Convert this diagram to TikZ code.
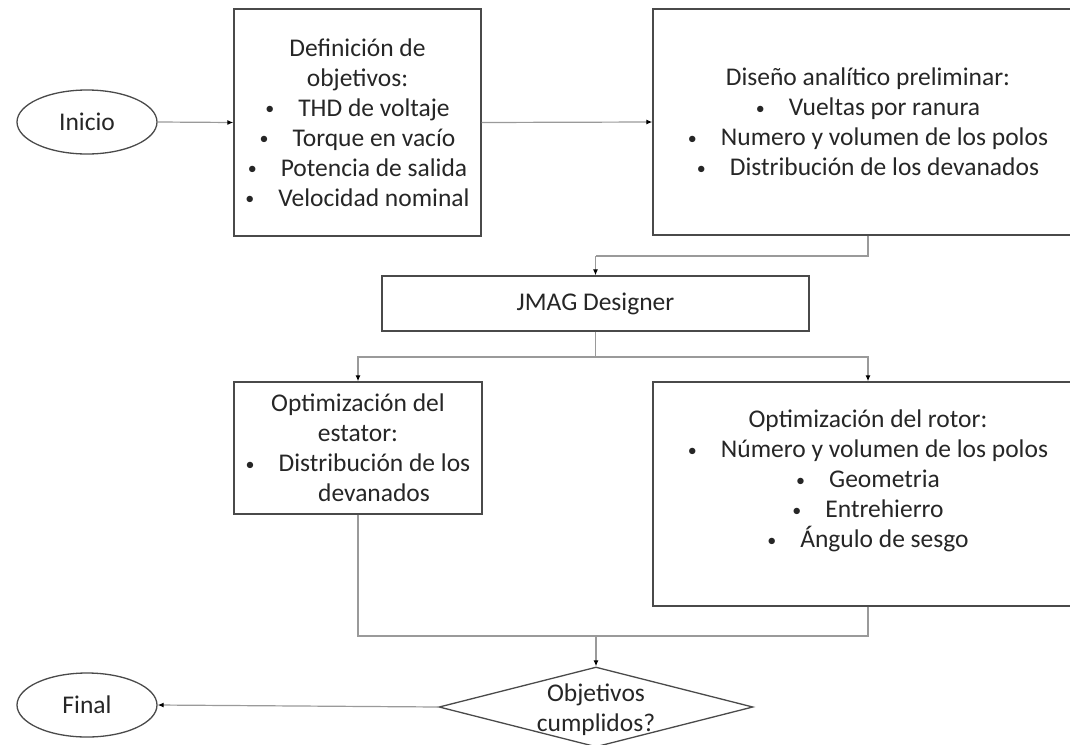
\documentclass[tikz,border=0pt]{standalone}
\usepackage{fontspec}
\setmainfont{Carlito}
\usetikzlibrary{shapes.geometric,arrows.meta}
\definecolor{bord}{HTML}{4A4A4A}
\definecolor{lin}{HTML}{9A9A9A}
\definecolor{txt}{HTML}{262626}
\newcommand{\bul}{{\fontsize{18}{18}\selectfont\raisebox{1.5pt}{\textbullet}}\hspace{24pt}}
\begin{document}
\begin{tikzpicture}[x=1pt,y=-1pt,
  box/.style={draw=bord,line width=1.3pt,fill=white,inner sep=0pt,align=center,text=txt,font=\fontsize{25.5}{30}\selectfont},
  oval/.style={draw=bord,line width=1.3pt,ellipse,inner sep=0pt,minimum width=140pt,minimum height=64pt,text=txt,font=\fontsize{25.5}{30}\selectfont},
  dec/.style={draw=bord,line width=1.3pt,diamond,inner sep=0pt,minimum width=314pt,minimum height=80pt},
  lbl/.style={align=center,text=txt,inner sep=0pt,font=\fontsize{25.5}{30}\selectfont},
  conn/.style={draw=lin,line width=1.2pt},
  arr/.style={conn,-{Latex[length=6pt,width=5pt,color=black]}}]
\clip (0,0) rectangle (1070,744);
\fill[white] (0,0) rectangle (1070,744);

\node[oval] (ini) at (87,122) {Inicio};
\node[box,minimum width=247pt,minimum height=227pt] (b1) at (357.5,122.5)
  {Definición de\\objetivos:\\\bul THD de voltaje\\\bul Torque en vacío\\\bul Potencia de salida\\\bul Velocidad nominal};
\node[box,minimum width=430pt,minimum height=226pt] (b2) at (868,122)
  {Diseño analítico preliminar:\\\bul Vueltas por ranura\\\bul Numero y volumen de los polos\\\bul Distribución de los devanados};
\node[box,minimum width=427pt,minimum height=55pt] (jm) at (595.5,303.5) {JMAG Designer};
\node[box,minimum width=248pt,minimum height=132pt] (b3) at (358,448)
  {Optimización del\\estator:\\\bul Distribución de los\\\hspace*{32pt}devanados};
\node[box,minimum width=430pt,minimum height=224pt] (b4) at (868,494) {};
\node[lbl] (b4t) at (868,481)
  {Optimización del rotor:\\\bul Número y volumen de los polos\\\bul Geometria\\\bul Entrehierro\\\bul Ángulo de sesgo};
\node[dec] (dia) at (596,707) {};
\node[lbl] (diat) at (596,710) {Objetivos\\cumplidos?};
\node[oval] (fin) at (87,705) {Final};

\coordinate (bend1) at (595.5,256);
\coordinate (split) at (595.5,357);
\coordinate (merge) at (596,636);

\draw[arr] (ini.east) -- (b1.west);
\draw[arr] (b1.east) -- (b2.west);
\draw[conn] (b2.south) |- (bend1);
\draw[arr] (bend1) -- (jm.north);
\draw[conn] (jm.south) -- (split);
\draw[arr] (split) -| (b3.north);
\draw[arr] (split) -| (b4.north);
\draw[conn] (b3.south) |- (merge);
\draw[conn] (b4.south) |- (merge);
\draw[arr] (merge) -- (dia.north);
\draw[arr] (dia.west) -- (fin.east);
\end{tikzpicture}
\end{document}
